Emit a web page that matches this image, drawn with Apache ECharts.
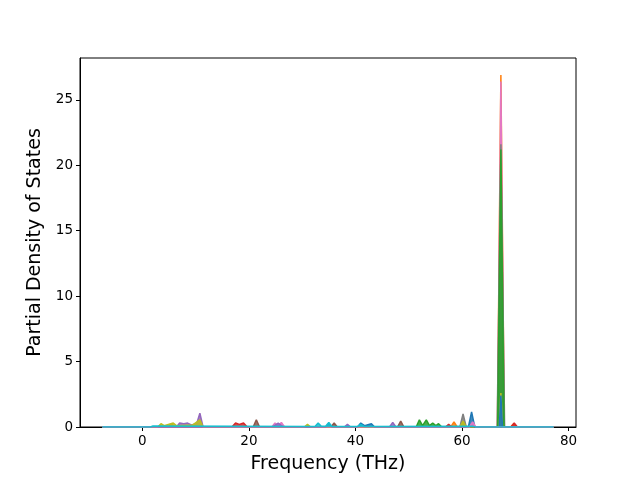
<!DOCTYPE html>
<html>
<head>
<meta charset="utf-8">
<script src="https://cdn.jsdelivr.net/npm/echarts@6/dist/echarts.min.js"></script>
<style>html,body{margin:0;padding:0;background:#fff}#c{width:640px;height:480px}</style>
</head>
<body>
<div id="c"></div>
<script>
const xTicks = [0, 20, 40, 60, 80];
const yTicks = [0, 5, 10, 15, 20, 25];

const pdosOrange = [[-7.5,0],[4.9,0],[5.5,0.25],[6.1,0],[57.9,0],[58.5,0.4],[59.1,0],[59.6,0],[60.2,0.35],[60.8,0],[66.65,0],[67.3,26.9],[67.95,0],[69.1,0],[69.7,0.25],[70.3,0],[77.2,0]];
const pdosPinkA = [[-7.5,0],[24.3,0],[24.9,0.3],[25.5,0.1],[26.1,0.35],[26.7,0],[66.7,0],[67.3,26.4],[67.9,0],[77.2,0]];
const pdosGray = [[-7.5,0],[59.6,0],[60.2,1.0],[60.8,0],[66.6,0],[67.3,21.6],[68.0,0],[77.2,0]];
const pdosGreen = [[-7.5,0],[51.4,0],[52,0.55],[52.6,0.1],[53.3,0.55],[53.9,0.1],[54.5,0.3],[55.1,0.1],[55.6,0.25],[56.2,0],[66.7,0],[67.3,21.2],[67.9,0],[77.2,0]];
const pdosPurple = [[-7.5,0],[6.4,0],[7,0.3],[7.8,0.25],[8.5,0.3],[9.2,0.15],[10.2,0.25],[10.8,1.05],[11.4,0],[24.4,0],[25.5,0.3],[26.5,0],[37.9,0],[38.5,0.2],[39.1,0],[46.4,0],[47,0.35],[47.6,0],[77.2,0]];
const pdosRed = [[-7.5,0],[16.8,0],[17.5,0.3],[18.2,0.2],[19,0.3],[19.7,0],[56.9,0],[57.5,0.2],[58.1,0],[69.2,0],[69.8,0.3],[70.4,0],[77.2,0]];
const pdosBrown = [[-7.5,0],[20.8,0],[21.4,0.55],[22,0],[35.4,0],[36,0.3],[36.6,0],[47.9,0],[48.5,0.45],[49.1,0],[77.2,0]];
const pdosOlive = [[-7.5,0],[2.9,0],[3.5,0.25],[4.1,0.1],[5.8,0.3],[6.4,0.1],[9.4,0.15],[10.8,0.55],[11.4,0],[30.4,0],[31,0.2],[31.6,0],[59.6,0],[60.2,0.45],[60.8,0],[67.0,0],[67.3,2.6],[67.6,0],[77.2,0]];
const pdosBlue = [[-7.5,0],[34.4,0],[35,0.25],[35.6,0],[40.4,0],[41,0.3],[41.7,0.1],[43,0.25],[43.6,0],[61.2,0],[61.8,1.15],[62.4,0],[67.0,0],[67.3,2.4],[67.6,0],[77.2,0]];
const pdosPinkB = [[-7.5,0],[61.4,0],[62,0.4],[62.6,0],[77.2,0]];
const pdosCyan = [[-7.5,0],[1.5,0],[2,0.08],[32.4,0.04],[33,0.3],[33.6,0.05],[34.4,0.05],[35,0.35],[35.6,0.04],[40.4,0.04],[41,0.2],[41.6,0.04],[62,0.05],[62.6,0],[77.2,0]];

const seriesData = [pdosOrange, pdosPinkA, pdosGray, pdosGreen, pdosPurple, pdosRed, pdosBrown, pdosOlive, pdosBlue, pdosPinkB, pdosCyan];
const seriesColors = ['#ff7f0e','#e377c2','#7f7f7f','#2ca02c','#9467bd','#d62728','#8c564b','#bcbd22','#1f77b4','#e377c2','#17becf'];

const chart = echarts.init(document.getElementById('c'), null, {renderer: 'canvas'});
const font = 'DejaVu Sans';
chart.setOption({
  animation: false,
  backgroundColor: '#fff',
  grid: {left: 80, right: 64, top: 58, bottom: 53, show: true, borderColor: '#000', borderWidth: 1, backgroundColor: 'transparent'},
  xAxis: {
    type: 'value', min: -11.7, max: 81.4,
    name: 'Frequency (THz)', nameLocation: 'middle', nameGap: 28,
    nameTextStyle: {fontFamily: font, fontSize: 19, color: '#000'},
    axisLine: {show: true, onZero: false, lineStyle: {color: '#000', width: 1}},
    axisTick: {show: true, inside: false, length: 4, lineStyle: {color: '#000'}, customValues: xTicks},
    axisLabel: {fontFamily: font, fontSize: 13.5, color: '#000', margin: 7, customValues: xTicks},
    splitLine: {show: false}
  },
  yAxis: {
    type: 'value', min: 0, max: 28.2,
    name: 'Partial Density of States', nameLocation: 'middle', nameGap: 32,
    nameTextStyle: {fontFamily: font, fontSize: 19, color: '#000'},
    axisLine: {show: true, onZero: false, lineStyle: {color: '#000', width: 1}},
    axisTick: {show: true, inside: false, length: 4, lineStyle: {color: '#000'}, customValues: yTicks},
    axisLabel: {fontFamily: font, fontSize: 13.5, color: '#000', margin: 7, customValues: yTicks},
    splitLine: {show: false}
  },
  series: seriesData.map((d, i) => ({
    type: 'line', data: d, symbol: 'none', smooth: false, z: 2 + i,
    lineStyle: {color: seriesColors[i], width: 1.5},
    itemStyle: {color: seriesColors[i]},
    areaStyle: {color: seriesColors[i], opacity: 0.85},
    clip: true
  }))
});
</script>
</body>
</html>
